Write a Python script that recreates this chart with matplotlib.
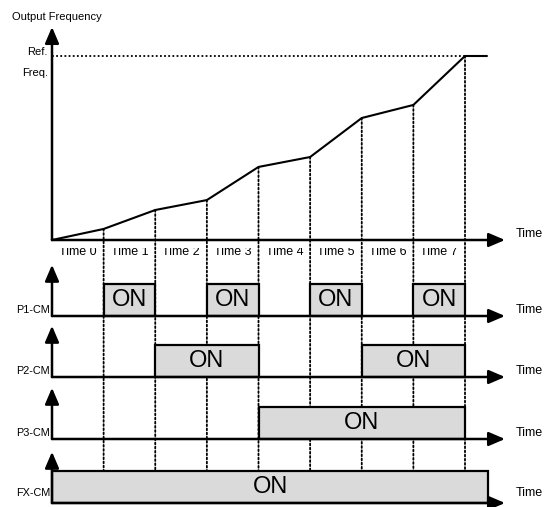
import matplotlib.pyplot as plt
from matplotlib.patches import Rectangle, ConnectionPatch

plt.rcParams['font.family'] = ['Liberation Sans', 'DejaVu Sans']

# --- data ---
time_labels = ['Time 0', 'Time 1', 'Time 2', 'Time 3', 'Time 4', 'Time 5', 'Time 6', 'Time 7']
t_edges = [0, 1, 2, 3, 4, 5, 6, 7, 8]
freq = [0, 6, 16.3, 21.7, 39.7, 45.1, 66.3, 73.4, 100]   # % of Ref. Freq.
freq_hold_end = 8.42
signals = ['P1-CM', 'P2-CM', 'P3-CM', 'FX-CM']
on_intervals = [
    [(1, 2), (3, 4), (5, 6), (7, 8)],
    [(2, 4), (6, 8)],
    [(4, 8)],
    [(0, 8.45)],
]

# --- layout (pixels) ---
W, H = 550, 507
X0, PX_T = 52, 51.625
baselines = [316, 377, 439, 503]
FREQ_PX = 1.84
STATE_PX = 32

fig = plt.figure(figsize=(W / 100, H / 100), dpi=100)
xlim = (-X0 / PX_T, (W - X0) / PX_T)
dot = (0, (1, 1.3))


def px_axes(top, bottom):
    ax = fig.add_axes([0, 1 - bottom / H, 1, (bottom - top) / H])
    ax.set_xlim(*xlim)
    ax.axis('off')
    return ax


def arrow(ax, start, end, lw=1.8):
    ax.annotate('', xy=end, xytext=start,
                arrowprops=dict(arrowstyle='-|>,head_length=0.7,head_width=0.3',
                                lw=lw, color='black', shrinkA=0, shrinkB=0,
                                mutation_scale=14))


# output frequency panel
ax_f = px_axes(0, 262)
ax_f.set_ylim((240 - 262) / FREQ_PX, 240 / FREQ_PX)
ax_f.plot(t_edges + [freq_hold_end], freq + [freq[-1]], color='black', lw=1.5, zorder=3)
ax_f.hlines(100, 0, t_edges[-1], colors='black', linestyles=[dot], lw=1.3)
arrow(ax_f, (0, 0), (0, (240 - 27) / FREQ_PX))
arrow(ax_f, (0, 0), ((505 - X0) / PX_T, 0))
ax_f.text(-0.78, 121, 'Output Frequency', fontsize=8, va='center', ha='left')
ax_f.text(-0.08, 102, 'Ref.', fontsize=8, va='center', ha='right')
ax_f.text(-0.08, 91, 'Freq.', fontsize=8, va='center', ha='right')
ax_f.text(8.99, 3, 'Time', fontsize=9, va='center', ha='left')

# contact signal panels
sig_axes = []
for i, (name, spans) in enumerate(zip(signals, on_intervals)):
    b = baselines[i]
    ax = px_axes(b - 68, b + 4)
    ax.set_ylim(-4 / STATE_PX, 68 / STATE_PX)
    off = 0.3 if name == 'FX-CM' else 0.2
    for a, e in spans:
        ax.add_patch(Rectangle((a, 0), e - a, 1, facecolor='#dadada',
                               edgecolor='black', lw=1.6, zorder=3))
        ax.text((a + e) / 2, 0.5, 'ON', fontsize=17, ha='center', va='center', zorder=4)
    arrow(ax, (0, 0), (0, 1.6))
    arrow(ax, (0, 0), ((505 - X0) / PX_T, 0))
    ax.text(-0.04, off, name, fontsize=7.8, ha='right', va='center')
    ax.text(8.99, off, 'Time', fontsize=9, ha='left', va='center')
    sig_axes.append(ax)

# time-slot labels (top clipped, like the original)
for k, lab in enumerate(time_labels):
    txt = sig_axes[0].text(t_edges[k] + 0.5, (316 - 255) / STATE_PX, lab, fontsize=9,
                           ha='center', va='baseline')
    txt.set_clip_on(True)

# dotted guides from the curve down to FX-CM
for k in range(1, len(t_edges)):
    con = ConnectionPatch(xyA=(t_edges[k], freq[k]), coordsA=ax_f.transData,
                          xyB=(t_edges[k], 1), coordsB=sig_axes[-1].transData,
                          color='black', lw=1.3, linestyle=dot, zorder=-1)
    fig.add_artist(con)

fig.savefig('out.png', dpi=100)
